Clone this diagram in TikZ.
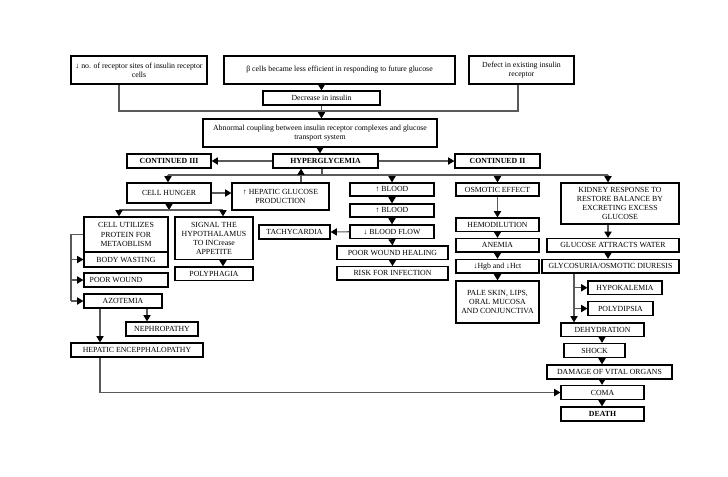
\documentclass[tikz,border=0pt]{standalone}
\usepackage{fontspec}
\setmainfont{Liberation Serif}
\usetikzlibrary{arrows.meta}
\newcommand\fs{\fontsize{5.85}{6.9}\selectfont}
\newcommand\bx[7][]{%
 \pgfmathsetmacro\bxcx{(#3+#5)/2}%
 \pgfmathsetmacro\bxcy{(#4+#6)/2}%
 \pgfmathsetmacro\bxw{(#5-#3)*0.75}%
 \pgfmathsetmacro\bxh{(#6-#4)*0.75}%
 \node[box,minimum width=\bxw pt,minimum height=\bxh pt,#1] (#2) at (\bxcx,\bxcy) {#7};}
\begin{document}
\begin{tikzpicture}[x=0.75pt,y=-0.75pt,
  box/.style={draw=black,line width=1pt,fill=white,inner sep=0pt,align=center,font=\fs},
  bold/.style={font=\fs\bfseries},
  ln/.style={draw=black!65,line width=0.8pt},
  ar/.style={ln,-{Triangle[width=5.4pt,length=4.6pt,color=black]}}]
\useasboundingbox (0,0) rectangle (728,476);
\fill[white] (0,0) rectangle (728,476);
% row 1
\bx{b1}{71}{56}{207}{84}{↓ no. of receptor sites of insulin receptor\\cells}
\bx{b2}{224}{56}{455}{84}{β cells became less efficient in responding to future glucose}
\bx{b3}{469}{56}{574}{84}{Defect in existing insulin\\receptor}
\bx{dec}{263}{91}{380}{105}{Decrease in insulin}
\bx{abn}{203}{119}{437}{147}{Abnormal coupling between insulin receptor complexes and glucose\\transport system}
\bx[bold]{hyp}{273}{154}{378}{168}{HYPERGLYCEMIA}
\bx[bold]{c3}{127}{154}{211}{168}{CONTINUED III}
\bx[bold]{c2}{455}{154}{540}{168}{CONTINUED II}
% left column
\bx{ch}{127}{183}{211}{203}{CELL HUNGER}
\bx{hep}{232}{183}{329}{210}{↑ HEPATIC GLUCOSE\\PRODUCTION}
\bx{cu}{84}{217}{168}{252}{CELL UTILIZES\\PROTEIN FOR\\METAOBLISM}
\bx{bw}{84}{252}{168}{267}{BODY WASTING}
\bx{pw}{84}{273}{168}{287}{POOR WOUND\hspace*{15pt}}
\bx{az}{84}{294}{162}{308}{AZOTEMIA}
\bx{sig}{175}{217}{253}{259.5}{SIGNAL THE\\HYPOTHALAMUS\\TO INCrease\\APPETITE}
\bx{pol}{175}{267}{253}{280.5}{POLYPHAGIA}
\bx{neph}{126}{322}{198}{336}{NEPHROPATHY}
\bx{hepenc}{71}{343}{203}{357}{HEPATIC ENCEPPHALOPATHY}
% blood column
\bx{bl1}{350}{183}{434}{196}{↑ BLOOD}
\bx{bl2}{350}{204}{434}{217}{↑ BLOOD}
\bx{bf}{350}{225}{434}{238.5}{↓ BLOOD FLOW}
\bx{pwh}{337}{246}{448}{259.5}{POOR WOUND HEALING}
\bx{rfi}{337}{266.7}{448}{280}{RISK FOR INFECTION}
\bx{tac}{259}{225}{330}{239}{TACHYCARDIA}
% osmotic column
\bx{osm}{456}{183}{539}{196}{OSMOTIC EFFECT}
\bx{hem}{456}{218}{539}{231.5}{HEMODILUTION}
\bx{ane}{456}{238.5}{539}{252}{ANEMIA}
\bx{hgb}{456}{259.5}{539}{273}{↓Hgb and ↓Hct}
\bx{pale}{456}{281}{539}{323}{PALE SKIN, LIPS,\\ORAL MUCOSA\\AND CONJUNCTIVA}
% kidney column
\bx{kid}{561}{183}{679}{224}{KIDNEY RESPONSE TO\\RESTORE BALANCE BY\\EXCRETING EXCESS\\GLUCOSE}
\bx{gaw}{547}{238.5}{679}{252}{GLUCOSE ATTRACTS WATER}
\bx{gly}{542}{259.5}{679}{273}{GLYCOSURIA/OSMOTIC DIURESIS}
\bx{hypo}{588}{281}{662}{294.5}{HYPOKALEMIA}
\bx{poly}{588}{301.5}{653}{315.5}{POLYDIPSIA}
\bx{deh}{561}{323}{644}{336.5}{DEHYDRATION}
\bx{sho}{564}{343.5}{625}{357.5}{SHOCK}
\bx{dam}{547}{365}{672}{379}{DAMAGE OF VITAL ORGANS}
\bx{com}{561}{385.5}{644}{399.5}{COMA}
\bx[bold]{dea}{561}{407}{644}{421}{DEATH}
% coordinates
\coordinate (jA) at (119,111);
\coordinate (jB) at (518,111);
\coordinate (jC) at (322,175);
\coordinate (jL) at (168,175);
\coordinate (jR) at (608,175);
\coordinate (jH) at (301,175);
\coordinate (jD) at (168,210);
\coordinate (jE) at (119,210);
\coordinate (jF) at (223,210);
\coordinate (jG) at (71,231);
\coordinate (xN) at (147,320);
\coordinate (xH) at (100,392.5);
\coordinate (xG) at (574,300);
\coordinate (xD) at (602,300);
% connectors top
\draw[ln] (b1.south -| jA) -- (jA) -- (jB) -- (b3.south -| jB);
\draw[ar] (b2.south -| dec.north) -- (dec.north);
\draw[ar] (dec.south) -- (abn.north -| dec.south);
\draw[ar] (abn.south) -- (abn.south |- hyp.north);
\draw[ar] (hyp.west) -- (c3.east);
\draw[ar] (hyp.east) -- (c2.west);
\draw[ln] (hyp.south -| jC) -- (jC);
\draw[ln] (jL) -- (jR);
\draw[ar] (jL) -- (ch.north -| jL);
\draw[ar] (bl1.north |- jC) -- (bl1.north);
\draw[ar] (osm.north |- jC) -- (osm.north);
\draw[ar] (jR) -- (kid.north -| jR);
\draw[ar] (hep.north -| jH) -- (hyp.south -| jH);
% left
\draw[ar] (ch.east) -- (ch.east -| hep.west);
\draw[ar] (ch.south) -- (ch.south |- jD);
\draw[ln] (jE) -- (jF);
\draw[ar] (jE) -- (cu.north -| jE);
\draw[ar] (jF) -- (sig.north -| jF);
\draw[ar] (sig.south -| jF) -- (pol.north -| jF);
\draw[ln] (cu.west) -- (cu.west -| jG) -- (jG |- az.west);
\draw[ar] (jG |- bw.west) -- (bw.west);
\draw[ar] (jG |- pw.west) -- (pw.west);
\draw[ar] (jG |- az.west) -- (az.west);
\draw[ar] (az.south -| xN) -- (neph.north -| xN);
\draw[ar] (az.south -| xH) -- (hepenc.north -| xH);
\draw[ar] (hepenc.south -| xH) |- (com.west);
% blood
\draw[ar] (bl1.south) -- (bl2.north);
\draw[ar] (bl2.south) -- (bf.north);
\draw[ar] (bf.south) -- (pwh.north);
\draw[ar] (pwh.south) -- (rfi.north);
\draw[ar] (bf.west) -- (tac.east);
% osmotic
\draw[ar] (osm.south) -- (hem.north);
\draw[ar] (hem.south) -- (ane.north);
\draw[ar] (ane.south) -- (hgb.north);
\draw[ar] (hgb.south) -- (pale.north);
% kidney
\draw[ar] (kid.south -| jR) -- (gaw.north -| jR);
\draw[ar] (gaw.south -| jR) -- (gly.north -| jR);
\draw[ar] (gly.south -| xG) -- (deh.north -| xG);
\draw[ar] (xG |- hypo.west) -- (hypo.west);
\draw[ar] (xG |- poly.west) -- (poly.west);
\draw[ar] (deh.south -| xD) -- (sho.north -| xD);
\draw[ar] (sho.south -| xD) -- (dam.north -| xD);
\draw[ar] (dam.south -| xD) -- (com.north -| xD);
\draw[ar] (com.south -| xD) -- (dea.north -| xD);
\end{tikzpicture}
\end{document}
